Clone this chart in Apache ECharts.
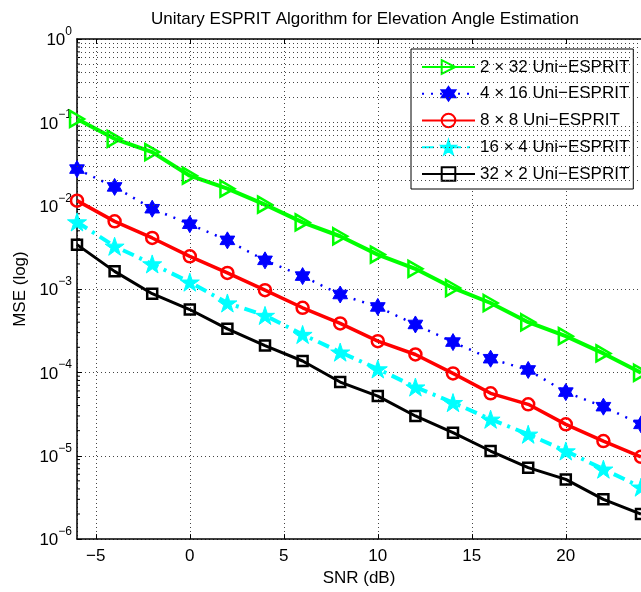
<!DOCTYPE html>
<html><head><meta charset="utf-8">
<script src="https://cdn.jsdelivr.net/npm/echarts@6/dist/echarts.min.js"></script>
<style>html,body{margin:0;padding:0;background:#fff}#c{width:641px;height:592px}</style>
</head><body><div id="c"></div>
<script>
const snr = [-6,-4,-2,0,2,4,6,8,10,12,14,16,18,20,22,24];
const mse2x32 = [0.110,0.0634,0.044,0.0229,0.016,0.0103,0.0063,0.0043,0.00259,0.00175,0.00103,0.00068,0.0004,0.000272,0.000169,0.0000991];
const mse4x16 = [0.0275,0.0168,0.0092,0.006,0.00384,0.00221,0.00143,0.00086,0.00061,0.000376,0.000231,0.000146,0.000107,0.000058,0.0000388,0.0000238];
const mse8x8 = [0.0115,0.00649,0.0041,0.00247,0.00156,0.00097,0.000596,0.000387,0.000237,0.000164,0.0000973,0.0000561,0.0000414,0.0000238,0.000015,0.0000097];
const mse16x4 = [0.00638,0.00326,0.002,0.00121,0.00068,0.000482,0.000285,0.000175,0.00011,0.0000667,0.0000434,0.0000274,0.0000181,0.0000114,0.0000069,0.0000042];
const mse32x2 = [0.00341,0.00163,0.00088,0.000568,0.000333,0.00021,0.000137,0.0000766,0.000052,0.00003,0.0000189,0.0000114,0.0000072,0.0000052,0.000003,0.000002];
const seriesNames = ['2 \u00d7 32 Uni\u2212ESPRIT','4 \u00d7 16 Uni\u2212ESPRIT','8 \u00d7 8 Uni\u2212ESPRIT','16 \u00d7 4 Uni\u2212ESPRIT','32 \u00d7 2 Uni\u2212ESPRIT'];
const xMin = -6, xMax = 24;
const yMin = 1e-6, yMax = 1;
const minorMantissas = [2,3,4,5,6,7,8,9];
const minorDecades = [-6,-5,-4,-3,-2,-1];
const titleText = 'Unitary ESPRIT Algorithm for Elevation Angle Estimation';
const xName = 'SNR (dB)';
const yName = 'MSE (log)';

const FONT = '"Liberation Sans", Arial, Helvetica, sans-serif';
const FS = 17;
const minorVals = [];
minorDecades.forEach(d => minorMantissas.forEach(m => minorVals.push(Number((m * Math.pow(10, d)).toPrecision(3)))));
const pair = ys => snr.map((x, i) => [x, ys[i]]);

const hexagram = 'path://M100,0 L128.9,50 L186.6,50 L157.7,100 L186.6,150 L128.9,150 L100,200 L71.1,150 L13.4,150 L42.3,100 L13.4,50 L71.1,50 Z';
const pentagram = 'path://M100,0 L122.45,69.1 L195.1,69.1 L136.33,111.8 L158.78,180.9 L100,138.2 L41.22,180.9 L63.67,111.8 L4.9,69.1 L77.55,69.1 Z';
const triRight = 'path://M0,0 L87,50 L0,100 Z';
const gridDot = {color: '#444', width: 1, type: [1, 3]};

const chart = echarts.init(document.getElementById('c'), null, {renderer: 'canvas'});
chart.setOption({
  animation: false,
  backgroundColor: '#fff',
  title: {text: titleText, left: 360, top: 6, textAlign: 'center',
    textStyle: {fontFamily: FONT, fontSize: FS, fontWeight: 'normal', color: '#000'}},
  grid: {left: 77, right: -3, top: 39, bottom: 52},
  legend: {
    data: seriesNames, orient: 'vertical', left: 411, top: 49,
    padding: [8, 4, 5, 10], itemGap: 6.75, itemWidth: 53, itemHeight: 17,
    backgroundColor: '#fff', borderColor: '#000', borderWidth: 1,
    textStyle: {fontFamily: FONT, fontSize: FS, color: '#000', lineHeight: 20},
    selectedMode: false
  },
  xAxis: [{
    type: 'value', min: xMin, max: xMax, splitNumber: 6,
    name: xName, nameLocation: 'middle', nameGap: 30,
    nameTextStyle: {fontFamily: FONT, fontSize: FS, color: '#000'},
    axisLine: {show: true, onZero: false, lineStyle: {color: '#000', width: 1.5}},
    axisTick: {show: true, inside: true, length: 5, lineStyle: {color: '#000'}},
    axisLabel: {show: true, margin: 9, showMinLabel: false, showMaxLabel: false,
      fontFamily: FONT, fontSize: FS, color: '#000',
      formatter: v => String(v).replace('-', '\u2212')},
    splitLine: {show: true, lineStyle: gridDot}
  }, {
    type: 'value', min: xMin, max: xMax, splitNumber: 6, position: 'top',
    axisLine: {show: true, onZero: false, lineStyle: {color: '#000', width: 1.5}},
    axisTick: {show: true, inside: true, length: 5, lineStyle: {color: '#000'}},
    axisLabel: {show: false}, splitLine: {show: false}
  }],
  yAxis: [{
    type: 'log', logBase: 10, min: yMin, max: yMax, splitNumber: 6,
    name: yName, nameLocation: 'middle', nameGap: 48, nameRotate: 90,
    nameTextStyle: {fontFamily: FONT, fontSize: FS, color: '#000'},
    axisLine: {show: true, onZero: false, lineStyle: {color: '#000', width: 1.5}},
    axisTick: {show: true, inside: true, length: 5, lineStyle: {color: '#000'}},
    axisLabel: {show: true, margin: 5, fontFamily: FONT, color: '#000',
      formatter: v => {
        const e = Math.round(Math.log10(v));
        return '{b|10}{e|' + String(e).replace('-', '\u2212') + '}';
      },
      rich: {
        b: {fontFamily: FONT, fontSize: FS, color: '#000', lineHeight: 27, verticalAlign: 'middle', padding: [3, 0, 0, 0]},
        e: {fontFamily: FONT, fontSize: 12, color: '#000', lineHeight: 27, verticalAlign: 'top'}
      }
    },
    splitLine: {show: true, lineStyle: gridDot}
  }],
  series: [
    {
      type: 'custom', name: 'minor', silent: true, z: 1, clip: false,
      data: minorVals.map(v => [xMin, v]),
      renderItem: (params, api) => {
        const p = api.coord([api.value(0), api.value(1)]);
        return {type: 'line', shape: {x1: p[0], y1: p[1], x2: p[0] + 3, y2: p[1]},
          style: {stroke: '#000', lineWidth: 1}};
      },
      markLine: {silent: true, symbol: 'none', label: {show: false},
        lineStyle: gridDot, data: minorVals.map(v => ({yAxis: v}))}
    },
    {
      name: seriesNames[0], type: 'line', data: pair(mse2x32), z: 3,
      symbol: triRight, symbolSize: 16, symbolKeepAspect: true,
      lineStyle: {color: '#00ff00', width: 4},
      itemStyle: {color: 'rgba(255,255,255,0)', borderColor: '#00ff00', borderWidth: 2.5}
    },
    {
      name: seriesNames[1], type: 'line', data: pair(mse4x16), z: 4,
      symbol: hexagram, symbolSize: 17, symbolKeepAspect: true,
      lineStyle: {color: '#0000ff', width: 2.5, type: [2, 7]},
      itemStyle: {color: '#0000ff', borderColor: '#0000ff', borderWidth: 1}
    },
    {
      name: seriesNames[2], type: 'line', data: pair(mse8x8), z: 5,
      symbol: 'circle', symbolSize: 12,
      lineStyle: {color: '#ff0000', width: 3.5},
      itemStyle: {color: 'rgba(255,255,255,0)', borderColor: '#ff0000', borderWidth: 2.5}
    },
    {
      name: seriesNames[3], type: 'line', data: pair(mse16x4), z: 6,
      symbol: pentagram, symbolSize: 19, symbolKeepAspect: true,
      lineStyle: {color: '#00ffff', width: 4, type: [12, 6, 3, 6]},
      itemStyle: {color: '#00ffff', borderColor: '#00ffff', borderWidth: 1}
    },
    {
      name: seriesNames[4], type: 'line', data: pair(mse32x2), z: 7,
      symbol: 'rect', symbolSize: 10,
      lineStyle: {color: '#000000', width: 3},
      itemStyle: {color: 'rgba(255,255,255,0)', borderColor: '#000000', borderWidth: 2.5}
    }
  ]
});
</script>
</body></html>
